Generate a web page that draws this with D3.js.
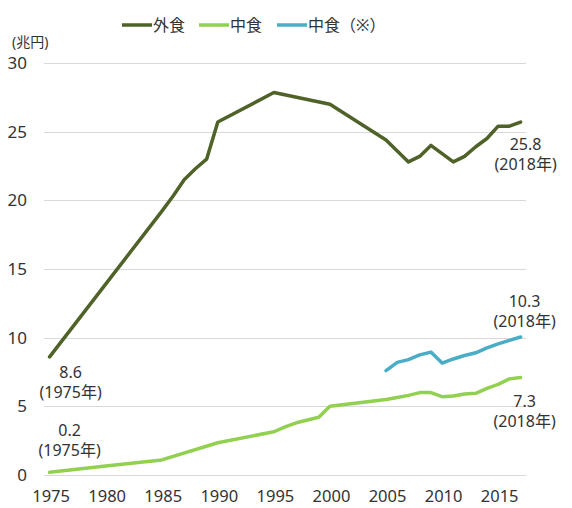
<!DOCTYPE html>
<html>
<head>
<meta charset="utf-8">
<script src="https://cdn.jsdelivr.net/npm/d3@7"></script>
<style>
  body { margin: 0; background: #fff; }
  svg text { font-family: "Noto Sans", "Noto Sans CJK JP", sans-serif; fill: #333; }
</style>
</head>
<body>
<div class="content"></div>
<script>
(function() {

  // Data (trillion yen)
  var gaishokuYears = [1975, 1980, 1985, 1986, 1987, 1988, 1989, 1990, 1995, 2000,
    2005, 2006, 2007, 2008, 2009, 2010, 2011, 2012, 2013, 2014, 2015, 2016, 2017];
  var gaishoku = [8.6, 13.9, 19.2, 20.3, 21.5, 22.3, 23.0, 25.7, 27.85, 27.0,
    24.4, 23.6, 22.8, 23.2, 24.0, 23.4, 22.8, 23.2, 23.9, 24.5, 25.4, 25.4, 25.7];

  var nakashokuYears = [1975, 1980, 1985, 1990, 1995, 1996, 1997, 1998, 1999, 2000,
    2005, 2006, 2007, 2008, 2009, 2010, 2011, 2012, 2013, 2014, 2015, 2016, 2017];
  var nakashoku = [0.2, 0.65, 1.1, 2.35, 3.15, 3.5, 3.8, 4.0, 4.2, 5.0,
    5.5, 5.65, 5.8, 6.0, 6.0, 5.7, 5.75, 5.9, 5.95, 6.3, 6.6, 7.0, 7.1];

  var nakashoku2Years = [2005, 2006, 2007, 2008, 2009, 2010, 2011, 2012, 2013, 2014, 2015, 2016, 2017];
  var nakashoku2 = [7.6, 8.2, 8.4, 8.75, 8.95, 8.15, 8.45, 8.7, 8.9, 9.25, 9.55, 9.8, 10.05];

  var seriesNames = ["外食", "中食", "中食（※）"];
  var xTicks = [1975, 1980, 1985, 1990, 1995, 2000, 2005, 2010, 2015];
  var yTicks = [0, 5, 10, 15, 20, 25, 30];
  var unitLabel = "(兆円)";

  // Design
  var width = 572, height = 508;
  var colors = ["#4f6228", "#92d050", "#4bacc6"];
  var plotLeft = 44, plotRight = 526;

  var x = d3.scaleLinear().domain([1975, 2017]).range([49.6, 520.6]);
  var y = d3.scaleLinear().domain([0, 30]).range([475, 63]);

  var svg = d3.select(".content").append("svg")
      .attr("width", width)
      .attr("height", height);

  // Gridlines
  svg.append("g").selectAll("line")
      .data(yTicks)
      .enter()
      .append("line")
      .attr("x1", plotLeft)
      .attr("x2", plotRight)
      .attr("y1", function(d) { return Math.round(y(d)) + 0.5; })
      .attr("y2", function(d) { return Math.round(y(d)) + 0.5; })
      .attr("stroke", "#d9d9d9")
      .attr("stroke-width", 1);

  // Y axis labels
  svg.append("g").selectAll("text")
      .data(yTicks)
      .enter()
      .append("text")
      .attr("x", 27)
      .attr("y", function(d) { return y(d); })
      .attr("dy", "0.35em")
      .attr("text-anchor", "end")
      .style("font-size", "17px")
      .text(function(d) { return d; });

  svg.append("text")
      .attr("x", 12)
      .attr("y", 42)
      .attr("dy", "0.35em")
      .style("font-size", "14px")
      .text(unitLabel);

  // X axis labels
  svg.append("g").selectAll("text")
      .data(xTicks)
      .enter()
      .append("text")
      .attr("x", function(d) { return x(d) + 1.5; })
      .attr("y", 496)
      .attr("dy", "0.35em")
      .attr("text-anchor", "middle")
      .style("font-size", "16.5px")
      .text(function(d) { return d; });

  // Lines
  var line = d3.line()
      .x(function(d) { return x(d[0]); })
      .y(function(d) { return y(d[1]); });

  var series = [
    d3.zip(gaishokuYears, gaishoku),
    d3.zip(nakashokuYears, nakashoku),
    d3.zip(nakashoku2Years, nakashoku2)
  ];

  svg.append("g").selectAll("path")
      .data(series)
      .enter()
      .append("path")
      .attr("d", line)
      .attr("fill", "none")
      .attr("stroke", function(d, i) { return colors[i]; })
      .attr("stroke-width", 3.5)
      .attr("stroke-linejoin", "round")
      .attr("stroke-linecap", "round");

  // Annotations at start / end of lines
  var notes = [
    {s: 0, end: false, lines: ["8.6", "(1975年)"], dx: 21, dy: 16},
    {s: 1, end: false, lines: ["0.2", "(1975年)"], dx: 20, dy: -42},
    {s: 0, end: true, lines: ["25.8", "(2018年)"], dx: 5, dy: 22},
    {s: 2, end: true, lines: ["10.3", "(2018年)"], dx: 4, dy: -36},
    {s: 1, end: true, lines: ["7.3", "(2018年)"], dx: 4, dy: 24}
  ];

  svg.append("g").selectAll("text")
      .data(notes)
      .enter()
      .append("text")
      .attr("text-anchor", "middle")
      .style("font-size", "16px")
      .each(function(d) {
        var pts = series[d.s];
        var p = d.end ? pts[pts.length - 1] : pts[0];
        var cx = x(p[0]) + d.dx;
        var cy = y(p[1]) + d.dy;
        d3.select(this).selectAll("tspan")
          .data(d.lines)
          .enter()
          .append("tspan")
          .attr("x", cx)
          .attr("y", function(t, j) { return cy + j * 20; })
          .attr("dy", "0.35em")
          .text(function(t) { return t; });
      });

  // Legend
  var legendX = [122, 199, 277];
  var legend = svg.append("g").selectAll("g")
      .data(seriesNames)
      .enter()
      .append("g")
      .attr("transform", function(d, i) { return "translate(" + legendX[i] + ",25)"; });

  legend.append("line")
      .attr("x1", 0)
      .attr("x2", 30)
      .attr("stroke", function(d, i) { return colors[i]; })
      .attr("stroke-width", 3.5);

  legend.append("text")
      .attr("x", 31)
      .attr("dy", "0.35em")
      .style("font-size", "16px")
      .text(function(d) { return d; });

})()
</script>
</body>
</html>
